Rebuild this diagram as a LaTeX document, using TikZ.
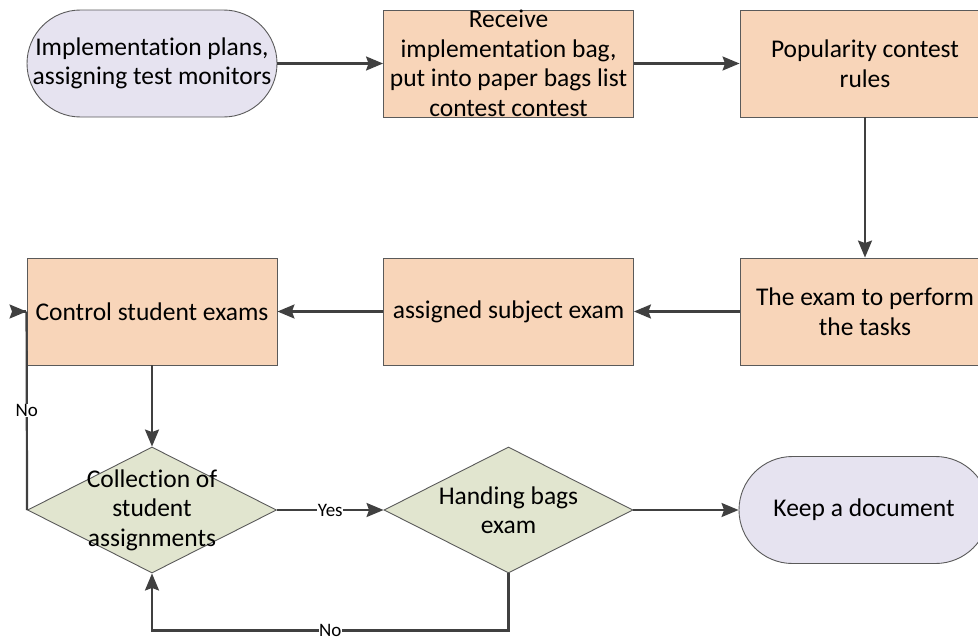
\documentclass[tikz,border=0pt]{standalone}
\usepackage{fontspec}
\setmainfont[Ligatures={NoCommon}]{Carlito}
\usetikzlibrary{shapes.geometric,shapes.misc,arrows.meta}

\definecolor{procfill}{HTML}{F8D5B9}
\definecolor{termfill}{HTML}{E6E3F0}
\definecolor{decfill}{HTML}{E1E5CF}
\definecolor{edge}{HTML}{5A5A5A}
\definecolor{conncol}{HTML}{404040}

\begin{document}
\begin{tikzpicture}[x=1pt,y=-1pt,
  proc/.style={draw=edge,line width=0.9pt,fill=procfill,rectangle,
    minimum width=250pt,minimum height=107pt,inner sep=0pt},
  term/.style={draw=edge,line width=0.9pt,fill=termfill,rounded rectangle,
    minimum width=250pt,minimum height=107pt,inner sep=0pt},
  dec/.style={draw=edge,line width=0.9pt,fill=decfill,diamond,
    minimum width=249pt,minimum height=126pt,inner sep=0pt},
  txt/.style={font=\fontsize{25.5}{29.5}\selectfont,align=center,inner sep=0pt},
  lbl/.style={font=\fontsize{19}{22}\selectfont,fill=white,inner sep=0.5pt},
  conn/.style={draw=conncol,line width=2.2pt},
  arr/.style={conn,-{Stealth[length=17pt,width=14pt,inset=2.5pt]}}
]
\useasboundingbox (0,0) rectangle (978,637);
\clip (0,0) rectangle (978,637);

% top row
\node[term] (start) at (152,63.5) {};
\node[txt] (startt) at (start) {Implementation plans,\\assigning test monitors};
\node[proc] (recv) at (508.5,63.5) {};
\node[txt] (recvt) at (recv) {Receive\\implementation bag,\\put into paper bags list\\contest contest};
\node[proc] (rules) at (865,63.5) {};
\node[txt] (rulest) at (rules) {Popularity contest\\rules};

% middle row
\node[proc] (tasks) at (865,311.5) {};
\node[txt] (taskst) at (tasks) {The exam to perform\\the tasks};
\node[proc] (subj) at (508.5,311.5) {};
\node[txt] (subjt) at (subj) {assigned subject exam};
\node[proc] (ctrl) at (152,311.5) {};
\node[txt] (ctrlt) at (ctrl) {Control student exams};

% bottom row
\node[dec] (collect) at (152,510) {};
\node[txt] (collectt) at (collect) {Collection of\\student\\assignments};
\node[dec] (hand) at (508.5,510) {};
\node[txt] (handt) at (hand) {Handing bags\\exam};
\node[term] (keep) at (864,510) {};
\node[txt] (keept) at (keep) {Keep a document};

% connectors
\draw[arr] (start.east) -- (recv.west);
\draw[arr] (recv.east) -- (rules.west);
\draw[arr] (rules.south) -- (tasks.north);
\draw[arr] (tasks.west) -- (subj.east);
\draw[arr] (subj.west) -- (ctrl.east);
\draw[arr] (ctrl.south) -- (collect.north);
\draw[arr] (collect.east) -- node[lbl]{Yes} (hand.west);
\draw[arr] (hand.east) -- (keep.west);
\draw[arr] (hand.south) -- ++(0,57) -| node[lbl,pos=0.25]{No} (collect.south);
\draw[conn] (collect.west) -- node[lbl]{No} (ctrl.west);
\draw[arr] ([xshift=-1pt]ctrl.west) -- (ctrl.west);
\end{tikzpicture}
\end{document}
